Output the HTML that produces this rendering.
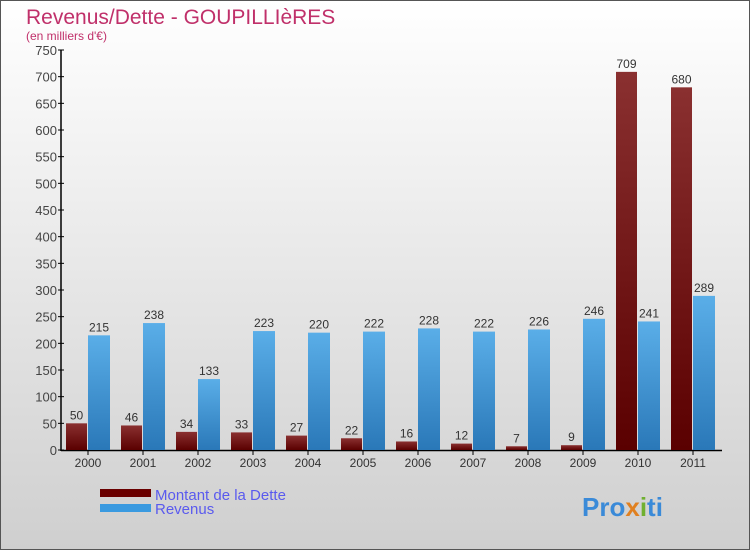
<!DOCTYPE html>
<html><head><meta charset="utf-8"><style>
body{margin:0;width:750px;height:550px;overflow:hidden;font-family:"Liberation Sans",sans-serif}
#c{position:absolute;left:0;top:0;width:748px;height:548px;border:1px solid #555;background:linear-gradient(#fff,#cfcfcf)}
</style></head><body>
<div id="c"></div>
<svg id="s" width="750" height="550" style="position:absolute;left:0;top:0">
<text x="26" y="24" font-size="21" fill="#c0306a">Revenus/Dette - GOUPILLIèRES</text>
<text x="26" y="40" font-size="12" fill="#c0306a">(en milliers d'€)</text>
<g id="axes"></g><g id="bars"></g>
<rect x="100" y="489" width="51" height="8" fill="#6a0000"/>
<text x="155" y="500" font-size="15" fill="#5a5aee">Montant de la Dette</text>
<rect x="100" y="504" width="51" height="8" fill="#3a9ae0"/>
<text x="155" y="514" font-size="15" fill="#5a5aee">Revenus</text>
<text x="582" y="516" font-size="26" font-weight="bold" fill="#3a8ad8">Pro<tspan fill="#e08020">x</tspan><tspan fill="#70b030">i</tspan>ti</text>
</svg>
<script>
const years=["2000","2001","2002","2003","2004","2005","2006","2007","2008","2009","2010","2011"];
const dette=[50,46,34,33,27,22,16,12,7,9,709,680];
const revenus=[215,238,133,223,220,222,228,222,226,246,241,289];
const yTicks=[0,50,100,150,200,250,300,350,400,450,500,550,600,650,700,750];
const NS="http://www.w3.org/2000/svg";
const y=v=>450-v*400/750, xc=i=>88+i*55;
function mk(t,a,p){const e=document.createElementNS(NS,t);for(const k in a)e.setAttribute(k,a[k]);p.appendChild(e);return e;}
const ax=document.getElementById('axes'),bg=document.getElementById('bars');
const defs=mk('defs',{},document.getElementById('s'));
const g1=mk('linearGradient',{id:'gd',x1:0,y1:0,x2:0,y2:1},defs);mk('stop',{offset:0,'stop-color':'#8a3030'},g1);mk('stop',{offset:1,'stop-color':'#5a0000'},g1);
const g2=mk('linearGradient',{id:'gr',x1:0,y1:0,x2:0,y2:1},defs);mk('stop',{offset:0,'stop-color':'#5aaee8'},g2);mk('stop',{offset:1,'stop-color':'#2a78b8'},g2);
let l=mk('line',{x1:61,y1:50,x2:61,y2:451,stroke:'#000','stroke-width':1.5},ax);


l=mk('line',{x1:61,y1:450.5,x2:722,y2:450.5,stroke:'#000','stroke-width':1.5},ax);


yTicks.forEach(v=>{mk('line',{x1:58,y1:y(v),x2:64,y2:y(v),stroke:'#000'},ax);
const t=mk('text',{x:57,y:y(v)+5,'font-size':13,fill:'#444','text-anchor':'end'},ax);t.textContent=v;

});
years.forEach((yr,i)=>{const c=xc(i);
mk('line',{x1:c,y1:450,x2:c,y2:455,stroke:'#000'},ax);
let t=mk('text',{x:c,y:467,'font-size':12,fill:'#333','text-anchor':'middle'},ax);t.textContent=yr;


let r=mk('rect',{x:c-22,y:y(dette[i]),width:21,height:450-y(dette[i]),fill:'url(#gd)'},bg);


t=mk('text',{x:c-11.5,y:y(dette[i])-4,'font-size':12,fill:'#333','text-anchor':'middle'},bg);t.textContent=dette[i];


r=mk('rect',{x:c,y:y(revenus[i]),width:22,height:450-y(revenus[i]),fill:'url(#gr)'},bg);


t=mk('text',{x:c+11,y:y(revenus[i])-4,'font-size':12,fill:'#333','text-anchor':'middle'},bg);t.textContent=revenus[i];

});
</script>
</body></html>
